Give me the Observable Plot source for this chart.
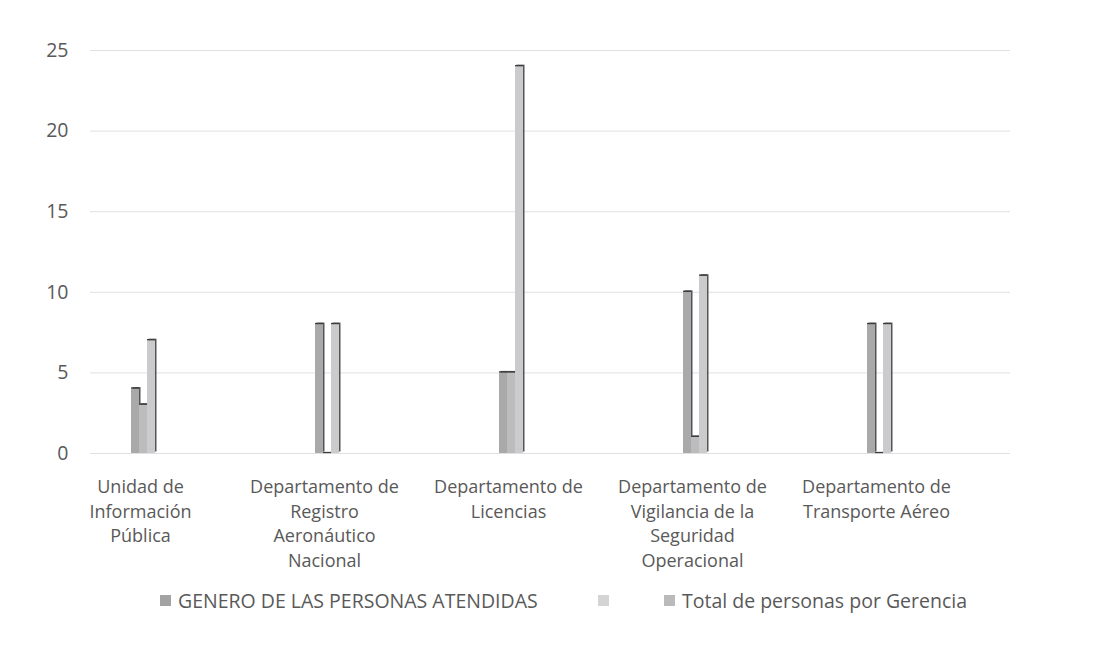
<!DOCTYPE html>
<html>
<head>
<meta charset="utf-8">
<script src="https://cdn.jsdelivr.net/npm/d3@7"></script>
<script src="https://cdn.jsdelivr.net/npm/@observablehq/plot@0.6"></script>
<style>
  body { margin: 0; background: #fff; font-family: "Open Sans", sans-serif; }
  #wrap { position: relative; width: 1107px; height: 661px; }
  #legend { position: absolute; left: 0; top: 586px; width: 1107px; height: 28px; font-size: 19.5px; color: #595959; }
  #legend .item { position: absolute; top: 0; height: 28px; display: flex; align-items: center; white-space: nowrap; }
  #legend .sw { width: 11px; height: 11px; margin-right: 7px; }
</style>
</head>
<body>
<div id="wrap">
  <div id="chart"></div>
  <div id="legend"></div>
</div>
<script>
const categories = [
  "Unidad de Información Pública",
  "Departamento de Registro Aeronáutico Nacional",
  "Departamento de Licencias",
  "Departamento de Vigilancia de la Seguridad Operacional",
  "Departamento de Transporte Aéreo"
];
const categoryLabels = [
  "Unidad de\nInformación\nPública",
  "Departamento de\nRegistro\nAeronáutico\nNacional",
  "Departamento de\nLicencias",
  "Departamento de\nVigilancia de la\nSeguridad\nOperacional",
  "Departamento de\nTransporte Aéreo"
];
const seriesKeys = ["A", "B", "C"];
const seriesNames = ["GENERO DE LAS PERSONAS ATENDIDAS", "", "Total de personas por Gerencia"];
const seriesA = [4, 8, 5, 10, 8];
const seriesB = [3, 0, 5, 1, 0];
const seriesC = [7, 8, 24, 11, 8];
const yTicks = [0, 5, 10, 15, 20, 25];

const faceColors = ["#a9a9a9", "#bcbcbc", "#cbcbce"];
const legendColors = ["#a3a3a3", "#d4d4d4", "#bababa"];

const values = [seriesA, seriesB, seriesC];
const data = categories.flatMap((c, i) =>
  seriesKeys.map((s, j) => ({cat: c, s, v: values[j][i]}))
);
const labelOf = new Map(categories.map((c, i) => [c, categoryLabels[i]]));

const chart = Plot.plot({
  width: 1107,
  height: 585,
  marginLeft: 48,
  marginRight: 139,
  marginTop: 50,
  marginBottom: 132,
  style: {fontFamily: "Open Sans, sans-serif", color: "#595959", background: "#fff"},
  fx: {domain: categories, padding: 0, label: null},
  x: {domain: seriesKeys, paddingInner: 0, paddingOuter: 9.07, align: 0.519, axis: null},
  y: {domain: [0, 25], label: null},
  color: {domain: seriesKeys, range: faceColors},
  marks: [
    Plot.ruleY(yTicks, {dx: 42, stroke: "#e0e0e0", strokeWidth: 1}),
    Plot.axisY({ticks: yTicks, tickSize: 0, dx: 29, fontSize: 19.5, fill: "#595959", label: null}),
    Plot.axisFx({anchor: "bottom", tickSize: 0, tickPadding: 22, fontSize: 18, lineHeight: 1.37,
      fill: "#595959", label: null, tickFormat: d => labelOf.get(d), textAnchor: "middle", lineAnchor: "top"}),
    Plot.barY(data, {fx: "cat", x: "s", y: "v", fill: "#555555", dx: 1.5, dy: -1.5}),
    Plot.barY(data, {fx: "cat", x: "s", y: "v", fill: "s"}),
    Plot.tickY(data, {fx: "cat", x: "s", y: "v", stroke: "#3d3d3d", strokeWidth: 1.3, dy: -1})
  ]
});
document.getElementById("chart").appendChild(chart);

const legend = document.getElementById("legend");
const legendLeft = [160, 598, 664];
seriesKeys.forEach((k, i) => {
  const item = document.createElement("div");
  item.className = "item";
  item.style.left = legendLeft[i] + "px";
  const sw = document.createElement("span");
  sw.className = "sw";
  sw.style.background = legendColors[i];
  const tx = document.createElement("span");
  tx.textContent = seriesNames[i];
  item.appendChild(sw);
  item.appendChild(tx);
  legend.appendChild(item);
});
</script>
</body>
</html>
